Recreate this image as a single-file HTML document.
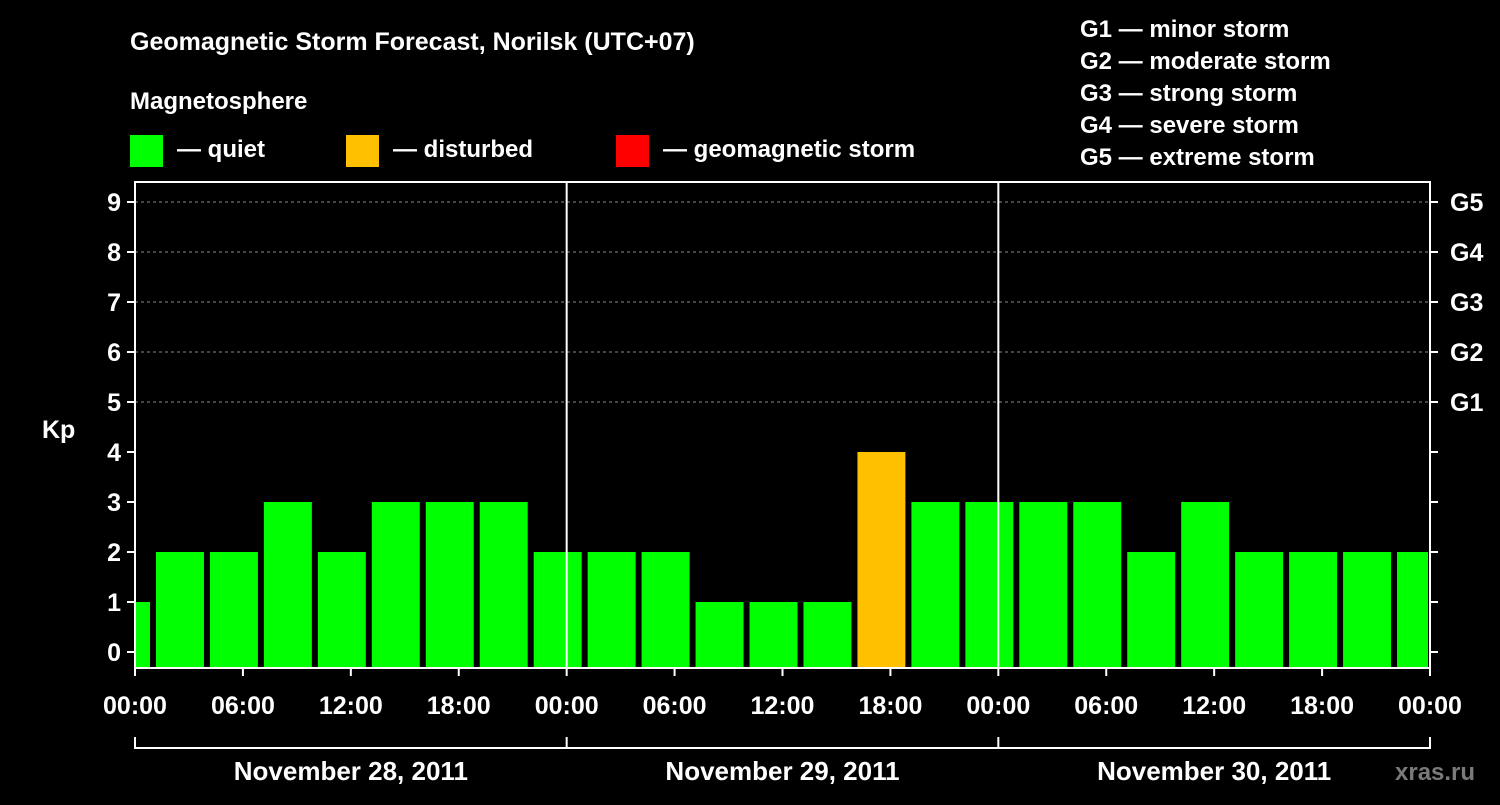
<!DOCTYPE html>
<html><head><meta charset="utf-8"><style>
body{margin:0;background:#000;width:1500px;height:800px;overflow:hidden}
svg text{font-family:"Liberation Sans",sans-serif;font-weight:bold;fill:#fff}
</style></head><body>
<svg id="c" width="1500" height="800">
<text x="130" y="50" font-size="25">Geomagnetic Storm Forecast, Norilsk (UTC+07)</text>
<text x="130" y="109" font-size="24">Magnetosphere</text>
<rect x="130" y="135" width="33" height="32" fill="#00ff00"/>
<text x="177" y="157" font-size="24">— quiet</text>
<rect x="346" y="135" width="33" height="32" fill="#ffc000"/>
<text x="393" y="157" font-size="24">— disturbed</text>
<rect x="616" y="135" width="33" height="32" fill="#ff0000"/>
<text x="663" y="157" font-size="24">— geomagnetic storm</text>
<g font-size="24">
<text x="1080" y="37">G1 — minor storm</text>
<text x="1080" y="69">G2 — moderate storm</text>
<text x="1080" y="101">G3 — strong storm</text>
<text x="1080" y="133">G4 — severe storm</text>
<text x="1080" y="165">G5 — extreme storm</text>
</g>
<text x="42" y="438" font-size="25">Kp</text>
<text x="1395" y="780" font-size="24" fill="#888" style="fill:#7a7a7a">xras.ru</text>
<g id="plot"></g>
</svg>
<script>
const values=[1,2,2,3,2,3,3,3,2,2,2,1,1,1,4,3,3,3,3,2,3,2,2,2,2];
const yTicks=[0,1,2,3,4,5,6,7,8,9];
const gLabels=["G1","G2","G3","G4","G5"];
const xLabels=["00:00","06:00","12:00","18:00","00:00","06:00","12:00","18:00","00:00","06:00","12:00","18:00","00:00"];
const dayLabels=["November 28, 2011","November 29, 2011","November 30, 2011"];
const L=135,R=1430,T=182,B=668;
const x=h=>L+(R-L)*h/72;
const y=v=>652-50*v;
const NS="http://www.w3.org/2000/svg";
const g=document.getElementById('plot');
function mk(t,a,txt){const e=document.createElementNS(NS,t);for(const k in a)e.setAttribute(k,a[k]);if(txt!=null)e.textContent=txt;g.appendChild(e);return e;}
yTicks.forEach(v=>{if(v>=5){const l=mk('line',{x1:L,x2:R,y1:y(v),y2:y(v),stroke:'#888','stroke-dasharray':'3,3'});

}});
values.forEach((v,i)=>{
 let h0=-2+3*i,h1=h0+3;
 let x0=x(h0)+3,x1=x(h1)-3;
 x0=Math.max(x0,L);x1=Math.min(x1,R-2);
 const r=mk('rect',{x:x0,y:y(v),width:x1-x0,height:B-y(v),fill:v>=5?'#ff0000':v>=4?'#ffc000':'#00ff00'});
 
 
});
const fr=mk('rect',{x:L,y:T,width:R-L,height:B-T,fill:'none',stroke:'#fff','stroke-width':2});


[24,48].forEach(h=>{const l=mk('line',{x1:x(h),x2:x(h),y1:T,y2:B,stroke:'#fff','stroke-width':2});

});
yTicks.forEach(v=>{
 mk('line',{x1:L-8,x2:L,y1:y(v),y2:y(v),stroke:'#fff','stroke-width':2});
 mk('line',{x1:R,x2:R+8,y1:y(v),y2:y(v),stroke:'#fff','stroke-width':2});
 const t=mk('text',{x:L-14,y:y(v)+9,'font-size':25,'text-anchor':'end'},String(v));
 
 
});
gLabels.forEach((s,i)=>{const t=mk('text',{x:R+20,y:y(5+i)+9,'font-size':25},s);

});
xLabels.forEach((s,i)=>{
 const xx=x(i*6);
 mk('line',{x1:xx,x2:xx,y1:B,y2:B+8,stroke:'#fff','stroke-width':2});
 const t=mk('text',{x:xx,y:714,'font-size':25,'text-anchor':'middle'},s);
 
 
});
const br=mk('path',{d:`M${L},737V748H${R}V737M${x(24)},737V748M${x(48)},737V748`,stroke:'#fff','stroke-width':2,fill:'none'});


dayLabels.forEach((s,i)=>{const t=mk('text',{x:x(i*24+12),y:780,'font-size':26,'text-anchor':'middle'},s);

});
</script>
</body></html>
